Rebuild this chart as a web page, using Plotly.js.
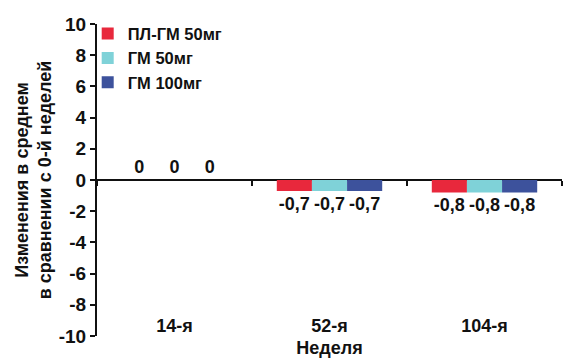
<!DOCTYPE html>
<html>
<head>
<meta charset="utf-8">
<script src="https://cdn.plot.ly/plotly-3.0.1.min.js"></script>
<style>html,body{margin:0;padding:0;background:#fff;}#chart{width:566px;height:358px;}</style>
</head>
<body>
<div id="chart"></div>
<script>
const categories = ['14-я', '52-я', '104-я'];
const seriesNames = ['ПЛ-ГМ 50мг', 'ГМ 50мг', 'ГМ 100мг'];
const plgm50 = [0, -0.7, -0.8];
const gm50 = [0, -0.7, -0.8];
const gm100 = [0, -0.7, -0.8];
const yTicks = [-10, -8, -6, -4, -2, 0, 2, 4, 6, 8, 10];
const colors = ['#e8283c', '#7fd2d8', '#3d529c'];

const FONT = '"Liberation Sans Narrow", "Arial Narrow", "Liberation Sans", Arial, sans-serif';
const seriesValues = [plgm50, gm50, gm100];
const fmt = v => String(v).replace('.', ',');

const traces = seriesValues.map((vals, i) => ({
  type: 'bar',
  name: seriesNames[i],
  x: categories,
  y: vals,
  marker: {color: colors[i]},
  text: vals.map(fmt),
  texttemplate: '%{text}',
  textposition: 'outside',
  cliponaxis: false,
  textfont: {family: FONT, size: 18, color: '#111', weight: 'bold'},
  hoverinfo: 'skip'
}));

const layout = {
  width: 566, height: 358,
  margin: {l: 97, r: 4, t: 24, b: 22},
  paper_bgcolor: '#fff', plot_bgcolor: '#fff',
  separators: ', ',
  font: {family: FONT, size: 18, color: '#111', weight: 'bold'},
  barmode: 'group',
  bargap: 0.32,
  bargroupgap: 0,
  showlegend: true,
  legend: {
    x: -0.02, y: 1.025, xanchor: 'left', yanchor: 'top',
    bgcolor: 'rgba(255,255,255,0)',
    font: {family: FONT, size: 16.5, color: '#111', weight: 'bold'},
    itemwidth: 30, tracegroupgap: 0,
    traceorder: 'normal'
  },
  xaxis: {
    type: 'category',
    anchor: 'free', position: 0.5,
    showline: false,
    showgrid: false,
    ticks: 'outside', ticklen: 5, tickwidth: 2, tickcolor: '#111',
    tickson: 'boundaries',
    ticklabelstandoff: 133,
    tickfont: {family: FONT, size: 18, color: '#111', weight: 'bold'},
    title: {text: 'Неделя', font: {family: FONT, size: 18, color: '#111', weight: 'bold'}, standoff: 6},
    fixedrange: true
  },
  yaxis: {
    range: [-10, 10],
    tickvals: yTicks,
    ticktext: yTicks.map(String),
    showgrid: false,
    zeroline: true, zerolinecolor: '#111', zerolinewidth: 2,
    showline: true, linecolor: '#111', linewidth: 2,
    ticks: 'outside', ticklen: 5, tickwidth: 2, tickcolor: '#111',
    tickfont: {family: FONT, size: 19, color: '#111', weight: 'bold'},
    title: {text: 'Изменения в среднем<br>в сравнении с 0-й неделей', font: {family: FONT, size: 18, color: '#111', weight: 'bold'}, standoff: 2},
    fixedrange: true
  }
};

Plotly.newPlot('chart', traces, layout, {displayModeBar: false, staticPlot: true});
</script>
</body>
</html>
